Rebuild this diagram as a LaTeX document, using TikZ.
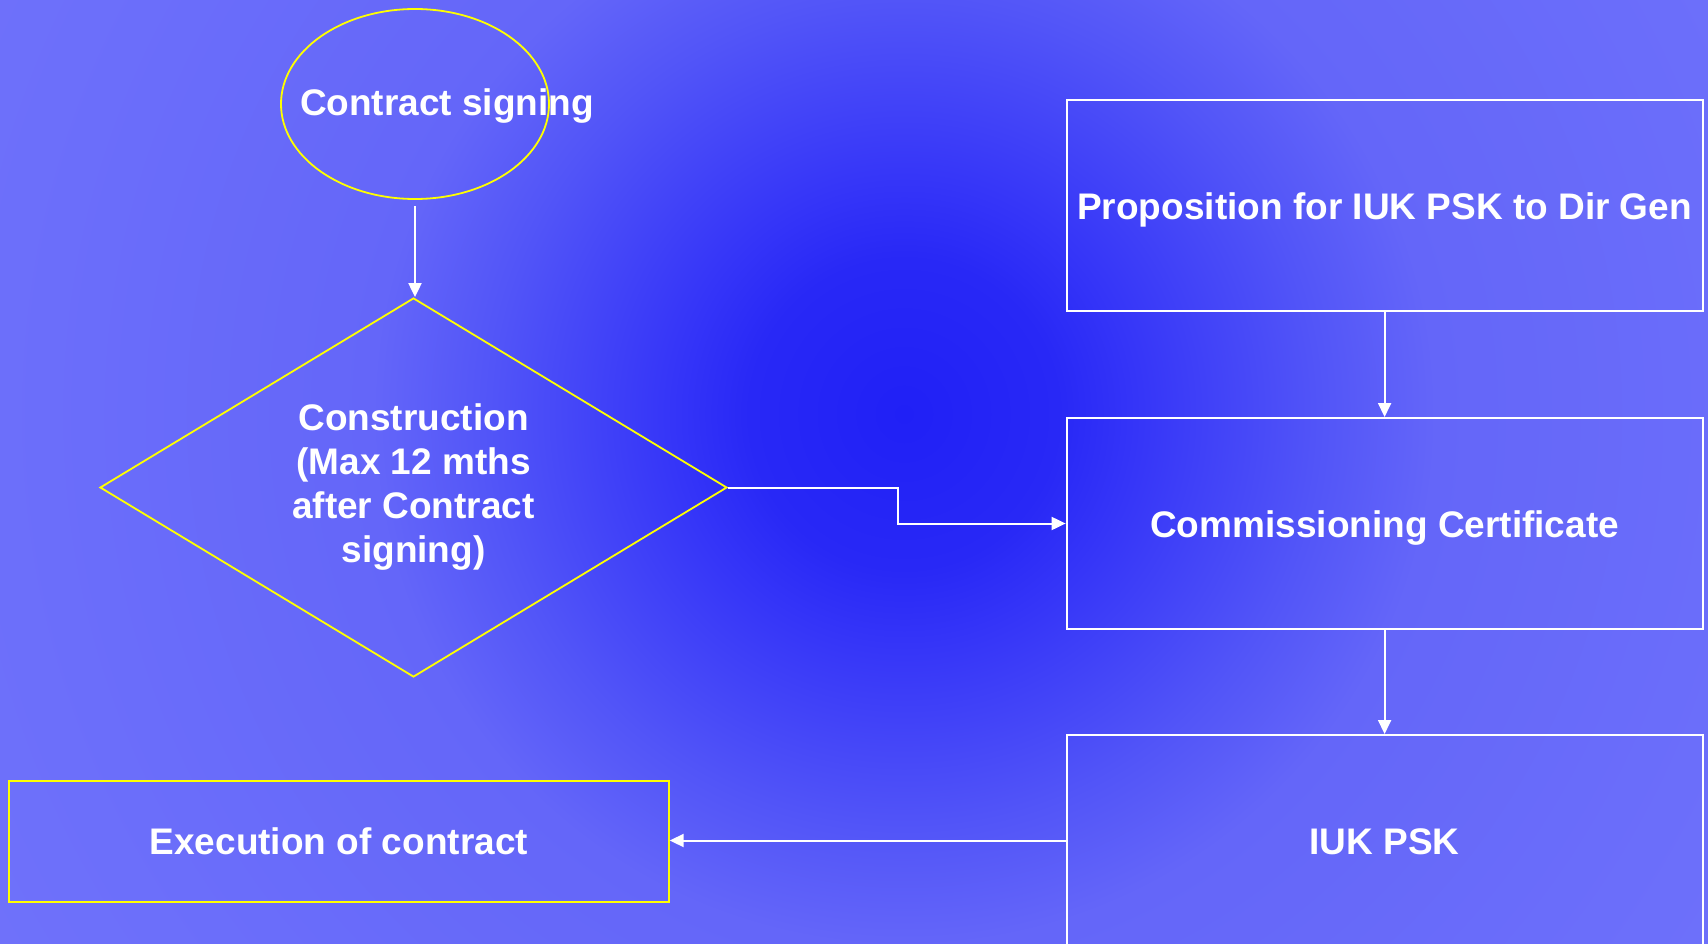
\documentclass[tikz,border=0pt]{standalone}
\usepackage{fontspec}
\setmainfont{Liberation Sans}
\usetikzlibrary{shapes.geometric,arrows.meta}
\definecolor{bg0}{HTML}{2020F6}
\definecolor{bga}{HTML}{2828F6}
\definecolor{bgb}{HTML}{3535F8}
\definecolor{bg1}{HTML}{5255F8}
\definecolor{bg2}{HTML}{6466F9}
\definecolor{bg3}{HTML}{6C6FFA}
\definecolor{bg4}{HTML}{7072FA}
\definecolor{ylw}{HTML}{FFFF00}
\pgfdeclareradialshading{bgshade}{\pgfpointorigin}{color(0bp)=(bg0); color(7bp)=(bga); color(10.5bp)=(bgb); color(18.8bp)=(bg1); color(24.1bp)=(bg2); color(40.9bp)=(bg3); color(50bp)=(bg4)}
\begin{document}
\begin{tikzpicture}[x=1pt,y=-1pt,
  txt/.style={text=white, font=\bfseries\fontsize{37}{44}\selectfont},
  ybox/.style={draw=ylw, line width=1.8pt, inner sep=0pt},
  wbox/.style={draw=white, line width=2pt, rectangle, inner sep=0pt, txt, text height=27pt, text depth=0pt},
  conn/.style={draw=white, line width=2pt, -{Triangle[length=14pt,width=13pt]}}]
\clip (0,0) rectangle (1708,944);
\begin{scope}[shift={(904,414)}]
  \pgftransformscale{22}
  \pgflowlevelsynccm
  \pgfuseshading{bgshade}
\end{scope}

\node[ybox, ellipse, minimum width=268pt, minimum height=190pt] (sign) at (415,104) {};
\node[txt, anchor=base] (signtxt) at (447,116) {Contract signing};

\node[ybox, diamond, aspect=1.65, minimum width=627pt, minimum height=379pt, txt, align=center]
  (diam) at (413.5,487.5) {Construction\\(Max 12 mths\\after Contract\\signing)};

\node[wbox, minimum width=636pt, minimum height=211pt] (prop) at (1384.6,205.5) {Proposition for IUK PSK to Dir Gen};
\node[wbox, minimum width=636pt, minimum height=211pt] (cert) at (1384.6,523.5) {Commissioning Certificate};
\node[wbox, minimum width=636pt, minimum height=211pt] (iuk) at (1384.6,840.5) {IUK PSK};
\node[wbox, draw=ylw, line width=1.8pt, minimum width=660pt, minimum height=121pt] (exec) at (338.8,841.3) {Execution of contract};

\draw[conn, shorten <=6pt] (sign.south) -- (sign.south |- diam.north);
\draw[conn] (diam.east) -- ++(170,0) |- (cert.west);
\draw[conn] (prop.south) -- (cert.north);
\draw[conn] (cert.south) -- (iuk.north);
\draw[conn] (iuk.west) -- (exec.east |- iuk.west);
\end{tikzpicture}
\end{document}
